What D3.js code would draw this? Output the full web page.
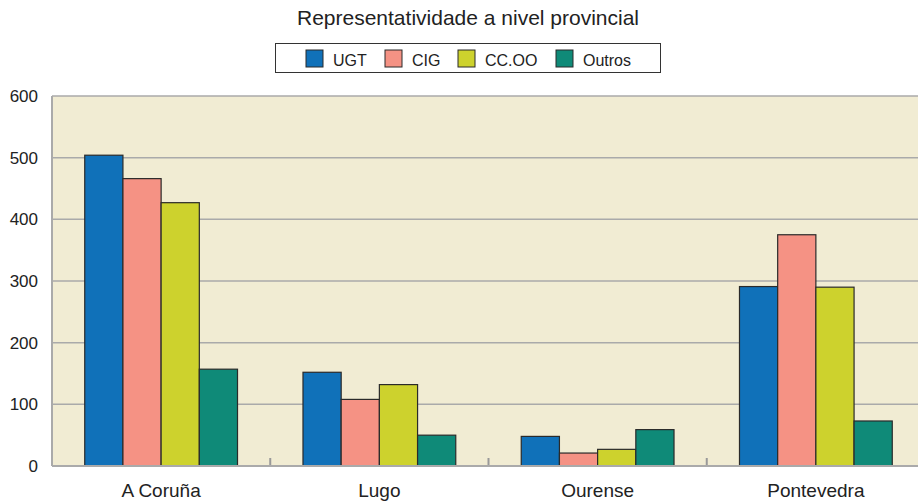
<!DOCTYPE html>
<html>
<head>
<meta charset="utf-8">
<script src="https://cdn.jsdelivr.net/npm/d3@7"></script>
<style>
    body { margin: 0; background: #fff; }
    text { font-family: "Liberation Sans", Arial, sans-serif; fill: #222; }
</style>
</head>
<body>
<div id="scene"></div>
<script>
const provinces = ['A Coruña', 'Lugo', 'Ourense', 'Pontevedra'];
const unions = ['UGT', 'CIG', 'CC.OO', 'Outros'];
const ugtValues = [504, 152, 48, 291];
const cigValues = [466, 108, 21, 375];
const ccooValues = [427, 132, 27, 290];
const outrosValues = [157, 50, 59, 73];
const yTicks = [0, 100, 200, 300, 400, 500, 600];
const unionColors = ['#1071b9', '#f59284', '#cdd22d', '#0f8a78'];

const width = 918;
const height = 504;
const plotLeft = 52;
const plotRight = 925;
const plotTop = 96;
const plotBottom = 466;

const seriesValues = [ugtValues, cigValues, ccooValues, outrosValues];
const rows = provinces.map((p, i) => ({
    province: p,
    values: unions.map((u, j) => ({ union: u, value: seriesValues[j][i] }))
}));

const svg = d3.select('#scene')
    .append('svg')
    .attr('width', width)
    .attr('height', height);

const xScale = d3.scaleBand().domain(provinces).range([plotLeft, plotRight]).paddingInner(0.3).paddingOuter(0.15);
const xInner = d3.scaleBand().domain(unions).range([0, xScale.bandwidth()]);
const yScale = d3.scaleLinear().domain([0, 600]).range([plotBottom, plotTop]);
const color = d3.scaleOrdinal().domain(unions).range(unionColors);

// plot background
svg.append('rect')
    .attr('x', plotLeft)
    .attr('y', yScale(600))
    .attr('width', plotRight - plotLeft)
    .attr('height', yScale(0) - yScale(600))
    .attr('fill', '#f1ecd3');

// gridlines
svg.selectAll('.grid')
    .data(yTicks.filter(d => d > 0))
    .enter().append('line')
    .attr('class', 'grid')
    .attr('x1', plotLeft)
    .attr('x2', plotRight)
    .attr('y1', d => yScale(d))
    .attr('y2', d => yScale(d))
    .attr('stroke', '#aaa')
    .attr('stroke-width', 1.5);

// category separator ticks
const step = xScale.step();
svg.selectAll('.xTick')
    .data(provinces.slice(1))
    .enter().append('line')
    .attr('class', 'xTick')
    .attr('x1', d => xScale(d) - step * 0.3 / 2)
    .attr('x2', d => xScale(d) - step * 0.3 / 2)
    .attr('y1', yScale(0))
    .attr('y2', yScale(0) - 8)
    .attr('stroke', '#999')
    .attr('stroke-width', 2);

// bars
const groups = svg.selectAll('.group')
    .data(rows)
    .enter().append('g')
    .attr('class', 'group')
    .attr('transform', d => `translate(${xScale(d.province)},0)`);

groups.selectAll('rect')
    .data(d => d.values)
    .enter().append('rect')
    .attr('x', d => xInner(d.union))
    .attr('y', d => yScale(d.value))
    .attr('width', xInner.bandwidth())
    .attr('height', d => yScale(0) - yScale(d.value))
    .attr('fill', d => color(d.union))
    .attr('stroke', '#2a2a2a')
    .attr('stroke-width', 1.2);

// axes lines
svg.append('line')
    .attr('x1', plotLeft).attr('x2', plotRight)
    .attr('y1', yScale(0)).attr('y2', yScale(0))
    .attr('stroke', '#aaa').attr('stroke-width', 2);

svg.append('line')
    .attr('x1', plotLeft).attr('x2', plotLeft)
    .attr('y1', yScale(0)).attr('y2', yScale(600))
    .attr('stroke', '#aaa').attr('stroke-width', 2);

// y labels
svg.selectAll('.yLabel')
    .data(yTicks)
    .enter().append('text')
    .attr('class', 'yLabel')
    .attr('x', 38)
    .attr('y', d => yScale(d))
    .attr('dy', 6)
    .attr('text-anchor', 'end')
    .style('font-size', '17px')
    .text(String);

// x labels
svg.selectAll('.xLabel')
    .data(provinces)
    .enter().append('text')
    .attr('class', 'xLabel')
    .attr('x', d => xScale(d) + xScale.bandwidth() / 2)
    .attr('y', 497)
    .attr('text-anchor', 'middle')
    .style('font-size', '19px')
    .text(String);

// title
svg.append('text')
    .attr('x', 468)
    .attr('y', 25)
    .attr('text-anchor', 'middle')
    .style('font-size', '21px')
    .text('Representatividade a nivel provincial');

// legend
svg.append('rect')
    .attr('x', 275.5)
    .attr('y', 43.5)
    .attr('width', 385)
    .attr('height', 29)
    .attr('fill', '#fff')
    .attr('stroke', '#333')
    .attr('stroke-width', 1);

const legendX = [306, 385, 458, 556];
const legend = svg.selectAll('.legend')
    .data(unions)
    .enter().append('g')
    .attr('class', 'legend')
    .attr('transform', (d, i) => `translate(${legendX[i]},50)`);

legend.append('rect')
    .attr('width', 17)
    .attr('height', 17)
    .attr('fill', d => color(d))
    .attr('stroke', '#2a2a2a')
    .attr('stroke-width', 1);

legend.append('text')
    .attr('x', 27)
    .attr('y', 15.5)
    .style('font-size', '16px')
    .text(String);
</script>
</body>
</html>
